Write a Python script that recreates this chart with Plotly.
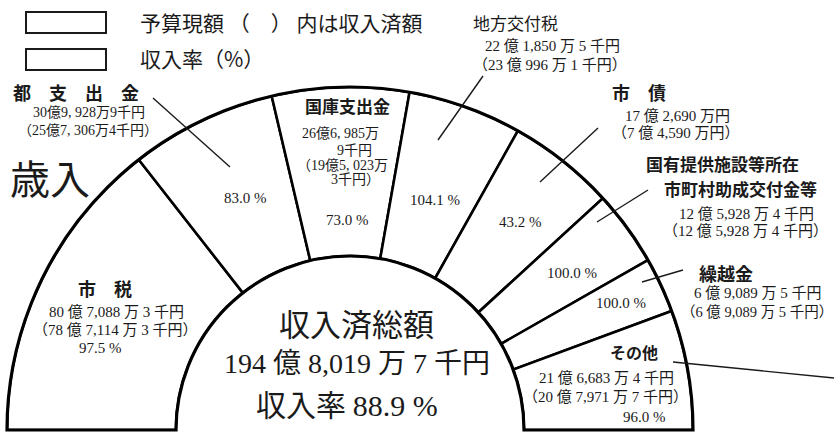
import plotly.graph_objects as go

# ---------------- data ----------------
categories = ["市税", "都支出金", "国庫支出金", "地方交付税", "市債",
              "国有提供施設等所在市町村助成交付金等", "繰越金", "その他"]
budget_amount = ["80億7,088万3千円", "30億9,928万9千円", "26億6,985万9千円",
                 "22億1,850万5千円", "17億2,690万円", "12億5,928万4千円",
                 "6億9,089万5千円", "21億6,683万4千円"]
received_amount = ["78億7,114万3千円", "25億7,306万4千円", "19億5,023万3千円",
                   "23億996万1千円", "7億4,590万円", "12億5,928万4千円",
                   "6億9,089万5千円", "20億7,971万7千円"]
collection_rate = [97.5, 83.0, 73.0, 104.1, 43.2, 100.0, 100.0, 96.0]
# angular span of each sector as drawn in the picture (degrees, left -> right)
sector_span = [52.0, 24.8, 23.2, 19.3, 18.2, 12.8, 9.4, 20.3]
total_received = "194億8,019万7千円"
total_rate = 88.9

# ---------------- helpers ----------------
W, H = 834, 435
SERIF = "Liberation Serif, Noto Sans CJK JP, serif"
GOTH = "Noto Sans CJK JP, sans-serif"
INK = "#1a1a1a"


def px(x):
    return x / W


def py(y):
    return 1 - y / H


def spaced(s):
    s = s.replace("億", " 億 ").replace("万円", " 万円").replace("万", " 万 ")
    s = s.replace("千円", " 千円").replace("  ", " ")
    return s.replace(" 万 円", " 万円")


def wide_comma(s):
    return s.replace(",", ", ")


theta, start = [], 180.0
for s in sector_span:
    theta.append(start - s / 2)
    start -= s

fig = go.Figure()
fig.add_trace(go.Barpolar(
    r=[1] * len(categories), theta=theta, width=sector_span, base=0,
    text=categories, hoverinfo="text",
    marker=dict(color="white", line=dict(color="black", width=2.6)),
    showlegend=False,
))

annotations = []
shapes = []


def txt(x, y, s, size, font=SERIF, xanchor="center"):
    annotations.append(dict(x=px(x), y=py(y), xref="paper", yref="paper",
                            text=s, showarrow=False, xanchor=xanchor, yanchor="middle",
                            font=dict(family=font, size=size, color=INK)))


def leader(x0, y0, x1, y1, w=1.4):
    shapes.append(dict(type="line", xref="paper", yref="paper",
                       x0=px(x0), y0=py(y0), x1=px(x1), y1=py(y1),
                       line=dict(color=INK, width=w)))


def pct(v):
    return f"{v:.1f} %"


# legend boxes
for (y0, y1) in [(12, 33), (49, 70)]:
    shapes.append(dict(type="rect", xref="paper", yref="paper",
                       x0=px(26), x1=px(106), y0=py(y0), y1=py(y1),
                       line=dict(color=INK, width=2), fillcolor="white"))
txt(138, 22, "予算現額 （　） 内は収入済額", 21, GOTH, "left")
txt(138, 58, "収入率（%）", 21, GOTH, "left")

txt(50, 177, "歳入", 40, GOTH)

# 市税
txt(105, 288, "<b>市　税</b>", 18, GOTH)
txt(116, 312, spaced(budget_amount[0]), 15)
txt(115, 330, "（" + spaced(received_amount[0]) + "）", 15)
txt(100, 348, pct(collection_rate[0]), 15)

# 都支出金
txt(76, 92, "<b>都　支　出　金</b>", 18, GOTH)
txt(89, 113, wide_comma(budget_amount[1]), 14)
txt(88, 130, "（" + wide_comma(received_amount[1]) + "）", 14)
txt(245, 198, pct(collection_rate[1]), 15)
leader(153, 98, 230, 167)

# 国庫支出金
txt(347, 105, "<b>国庫支出金</b>", 17, GOTH)
b2 = wide_comma(budget_amount[2])
r2 = wide_comma(received_amount[2])
txt(340, 133, b2[:b2.index("万") + 1], 14)
txt(354, 150, b2[b2.index("万") + 1:], 14)
txt(342, 165, "（" + r2[:r2.index("万") + 1], 14)
txt(355, 180, r2[r2.index("万") + 1:] + "）", 14)
txt(347, 220, pct(collection_rate[2]), 15)

# 地方交付税
txt(515, 22, "地方交付税", 17, GOTH)
txt(552, 46, spaced(budget_amount[3]), 15)
txt(550, 65, "（" + spaced(received_amount[3]) + "）", 15)
txt(435, 200, pct(collection_rate[3]), 15)
leader(483, 76, 438, 140)

# 市債
txt(639, 92, "<b>市　債</b>", 18, GOTH)
txt(677, 116, spaced(budget_amount[4]), 15)
txt(676, 133, "（" + spaced(received_amount[4]) + "）", 15)
txt(520, 222, pct(collection_rate[4]), 15)
leader(598, 128, 540, 182)

# 国有提供施設等所在市町村助成交付金等
cat5 = categories[5]
txt(722, 163.5, "<b>" + cat5[:9] + "</b>", 17, GOTH)
txt(740, 188.5, "<b>" + cat5[9:] + "</b>", 17, GOTH)
txt(746, 214, spaced(budget_amount[5]), 15)
txt(745, 231, "（" + spaced(received_amount[5]) + "）", 15)
txt(572, 273, pct(collection_rate[5]), 15)
leader(648, 190, 597, 222)

# 繰越金
txt(726, 273, "<b>繰越金</b>", 18, GOTH)
txt(758, 293, spaced(budget_amount[6]), 15)
txt(757, 312, "（" + spaced(received_amount[6]) + "）", 14.5)
txt(621, 303, pct(collection_rate[6]), 15)
leader(683, 270, 642, 282)

# その他
txt(634, 352, "<b>その他</b>", 16, GOTH)
txt(606, 378, spaced(budget_amount[7]), 15)
txt(605, 397, "（" + spaced(received_amount[7]) + "）", 15)
txt(644, 417, pct(collection_rate[7]), 15)
leader(673, 362, 834, 378)

# centre
txt(356, 322, "収入済総額", 31, GOTH)
txt(357, 363, spaced(total_received), 28)
txt(347, 403, "収入率 <span style='font-family:Liberation Serif'>" + pct(total_rate) + "</span>", 30, GOTH)

# polar geometry: centre (350, 430) px, inner radius 174 px, outer radius 343 px
R_OUT = 343
fig.update_layout(
    width=W, height=H,
    margin=dict(l=0, r=0, t=0, b=0),
    paper_bgcolor="white", plot_bgcolor="white",
    polar=dict(
        domain=dict(x=[px(350 - R_OUT), px(350 + R_OUT)], y=[py(430), py(430 - R_OUT)]),
        sector=[0, 180], hole=174 / R_OUT, bgcolor="rgba(0,0,0,0)",
        radialaxis=dict(range=[0, 1], showline=False, showgrid=False,
                        showticklabels=False, ticks=""),
        angularaxis=dict(rotation=0, direction="counterclockwise",
                         showline=True, linecolor="black", linewidth=3.2,
                         showgrid=False, showticklabels=False, ticks=""),
        bargap=0,
    ),
    annotations=annotations, shapes=shapes,
)

fig.write_html("out.html", config={"displayModeBar": False},
               post_script="document.body.style.margin='0px';")
